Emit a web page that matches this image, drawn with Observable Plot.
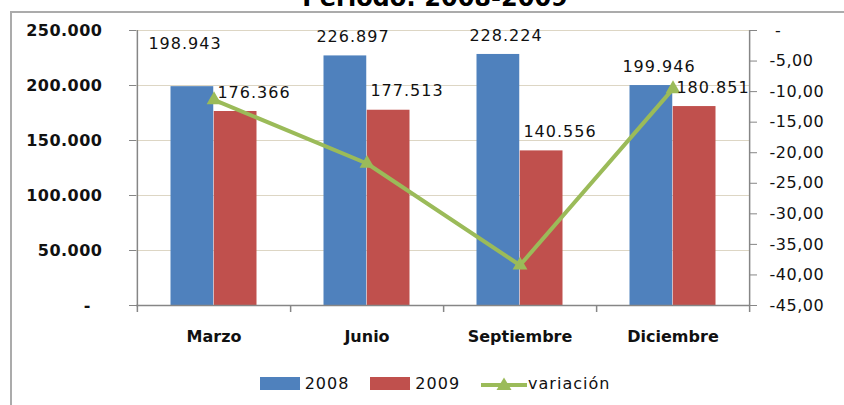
<!DOCTYPE html>
<html>
<head>
<meta charset="utf-8">
<script src="https://cdn.jsdelivr.net/npm/d3@7"></script>
<script src="https://cdn.jsdelivr.net/npm/@observablehq/plot@0.6"></script>
<style>
html, body { margin: 0; padding: 0; background: #fff; }
#wrap { position: relative; width: 844px; height: 405px; overflow: hidden; font-family: "DejaVu Sans", sans-serif; }
#frame { position: absolute; left: 10px; top: 11px; width: 900px; height: 500px; border-left: 2px solid #ababab; border-top: 2px solid #ababab; }
#title { position: absolute; left: 0; width: 870px; top: -14px; text-align: center; font: bold 24px "DejaVu Sans", sans-serif; line-height: 24px; color: #000; white-space: nowrap; }
#chart { position: absolute; left: 0; top: 0; }
#legend { position: absolute; left: 0; width: 870px; top: 374px; display: flex; justify-content: center; align-items: center; font-size: 16px; letter-spacing: 1px; color: #111; line-height: 19px; }
#legend .item { display: flex; align-items: center; }
#legend .sw { width: 40px; height: 13px; margin-right: 5px; }
</style>
</head>
<body>
<div id="wrap">
  <div id="frame"></div>
  <div id="title"></div>
  <div id="chart"></div>
  <div id="legend"></div>
</div>
<script>
// ---- data ----
const titleText = "Período: 2008-2009";
const categories = ["Marzo", "Junio", "Septiembre", "Diciembre"];
const values2008 = [198943, 226897, 228224, 199946];
const values2009 = [176366, 177513, 140556, 180851];
const variacion = [-11.35, -21.76, -38.41, -9.55];
const leftTicks = [0, 50000, 100000, 150000, 200000, 250000];
const rightTicks = [-45, -40, -35, -30, -25, -20, -15, -10, -5, 0];
const seriesNames = ["2008", "2009", "variación"];
const seriesColors = ["#4f81bd", "#c0504d", "#9bbb59"];

// ---- formatting (Spanish) ----
const loc = d3.formatLocale({decimal: ",", thousands: ".", grouping: [3], currency: ["", ""], minus: "-"});
const fmtInt = loc.format(",d");
const fmt2 = loc.format(".2f");
const leftFmt = d => d === 0 ? "-\u2007" : fmtInt(d);

// secondary axis mapping onto primary y domain
const yMax = 250000, vMin = -45, vMax = 0;
const yv = v => (v - vMin) / (vMax - vMin) * yMax;
const vy = y => y / yMax * (vMax - vMin) + vMin;
const rightFmt = d => { const v = Math.round(vy(d)); return v === 0 ? "\u2008-" : fmt2(v); };

const rows2008 = categories.map((c, i) => ({cat: c, value: values2008[i]}));
const rows2009 = categories.map((c, i) => ({cat: c, value: values2009[i]}));
const rowsVar = categories.map((c, i) => ({cat: c, v: variacion[i]}));

const W = 844, H = 360, mL = 136, mR = 95, mT = 30, mB = 55;
const bw = (W - mL - mR) / categories.length;
const axisColor = "#868686";
const textColor = "#111";

const chart = Plot.plot({
  width: W, height: H,
  marginLeft: mL, marginRight: mR, marginTop: mT, marginBottom: mB,
  style: {fontFamily: "DejaVu Sans, sans-serif", fontSize: "16px", background: "transparent", color: textColor, overflow: "visible"},
  x: {domain: categories, padding: 0, label: null},
  y: {domain: [0, yMax], label: null},
  marks: [
    Plot.gridY({ticks: leftTicks.slice(1), stroke: "#ddd6c4", strokeOpacity: 1, strokeWidth: 1.2}),
    Plot.barY(rows2008, {x: "cat", y: "value", fill: seriesColors[0], insetLeft: 33.5, insetRight: bw - 33.5 - 43}),
    Plot.barY(rows2009, {x: "cat", y: "value", fill: seriesColors[1], insetLeft: bw - 33.5 - 43, insetRight: 33.5}),
    Plot.ruleY([0], {stroke: axisColor, strokeWidth: 1.5}),
    Plot.ruleX([categories[0]], {x: d => d, dx: -bw / 2, stroke: axisColor, strokeWidth: 1.5, insetBottom: -7}),
    Plot.ruleX([categories[categories.length - 1]], {x: d => d, dx: bw / 2, stroke: axisColor, strokeWidth: 1.5, insetBottom: -7}),
    Plot.ruleX(categories.slice(0, -1), {x: d => d, dx: bw / 2, y1: 0, y2: 0, stroke: axisColor, strokeWidth: 1.5, insetBottom: -7}),
    Plot.axisY({anchor: "left", ticks: leftTicks, tickFormat: leftFmt, tickSize: 7, tickPadding: 27, fontSize: 16, fontWeight: "bold", stroke: axisColor, fill: textColor, label: null}),
    Plot.axisY({anchor: "right", ticks: rightTicks.map(yv), tickFormat: rightFmt, tickSize: 7, tickPadding: 13, fontSize: 16, stroke: axisColor, fill: textColor, label: null}),
    Plot.axisX({anchor: "bottom", tickSize: 0, tickPadding: 25, fontSize: 16, fontWeight: "bold", fill: textColor, label: null}),
    Plot.line(rowsVar, {x: "cat", y: d => yv(d.v), stroke: seriesColors[2], strokeWidth: 4}),
    Plot.dot(rowsVar, {x: "cat", y: d => yv(d.v), symbol: "triangle", r: 5.5, fill: seriesColors[2], stroke: null}),
    Plot.text(rows2008.slice(0, 1), {x: "cat", y: "value", text: d => fmtInt(d.value), dx: -29, dy: -43, fontSize: 16, fill: textColor}),
    Plot.text(rows2008.slice(1), {x: "cat", y: "value", text: d => fmtInt(d.value), dx: -14, dy: -19, fontSize: 16, fill: textColor}),
    Plot.text(rows2009, {x: "cat", y: "value", text: d => fmtInt(d.value), dx: 40, dy: -19, fontSize: 16, fill: textColor})
  ]
});
d3.select(chart).selectAll("g[aria-label='text'] text").style("letter-spacing", "1px");
d3.select(chart).selectAll("g[aria-label='y-axis tick label'] text").style("letter-spacing", "0.5px");
document.getElementById("chart").appendChild(chart);
document.getElementById("title").textContent = titleText;

// ---- legend ----
const legend = d3.select("#legend");
seriesNames.forEach((name, i) => {
  const item = legend.append("div").attr("class", "item").style("margin-left", i === 0 ? "0px" : "21px");
  if (i < 2) {
    item.append("div").attr("class", "sw").style("background", seriesColors[i]);
  } else {
    const s = item.append("svg").attr("width", 46).attr("height", 16).style("margin-right", "1px");
    s.append("line").attr("x1", 0).attr("x2", 46).attr("y1", 9).attr("y2", 9).attr("stroke", seriesColors[i]).attr("stroke-width", 4);
    s.append("path").attr("d", "M23,1.5 L30.5,14 L15.5,14 Z").attr("fill", seriesColors[i]);
  }
  item.append("span").text(name);
});
</script>
</body>
</html>
